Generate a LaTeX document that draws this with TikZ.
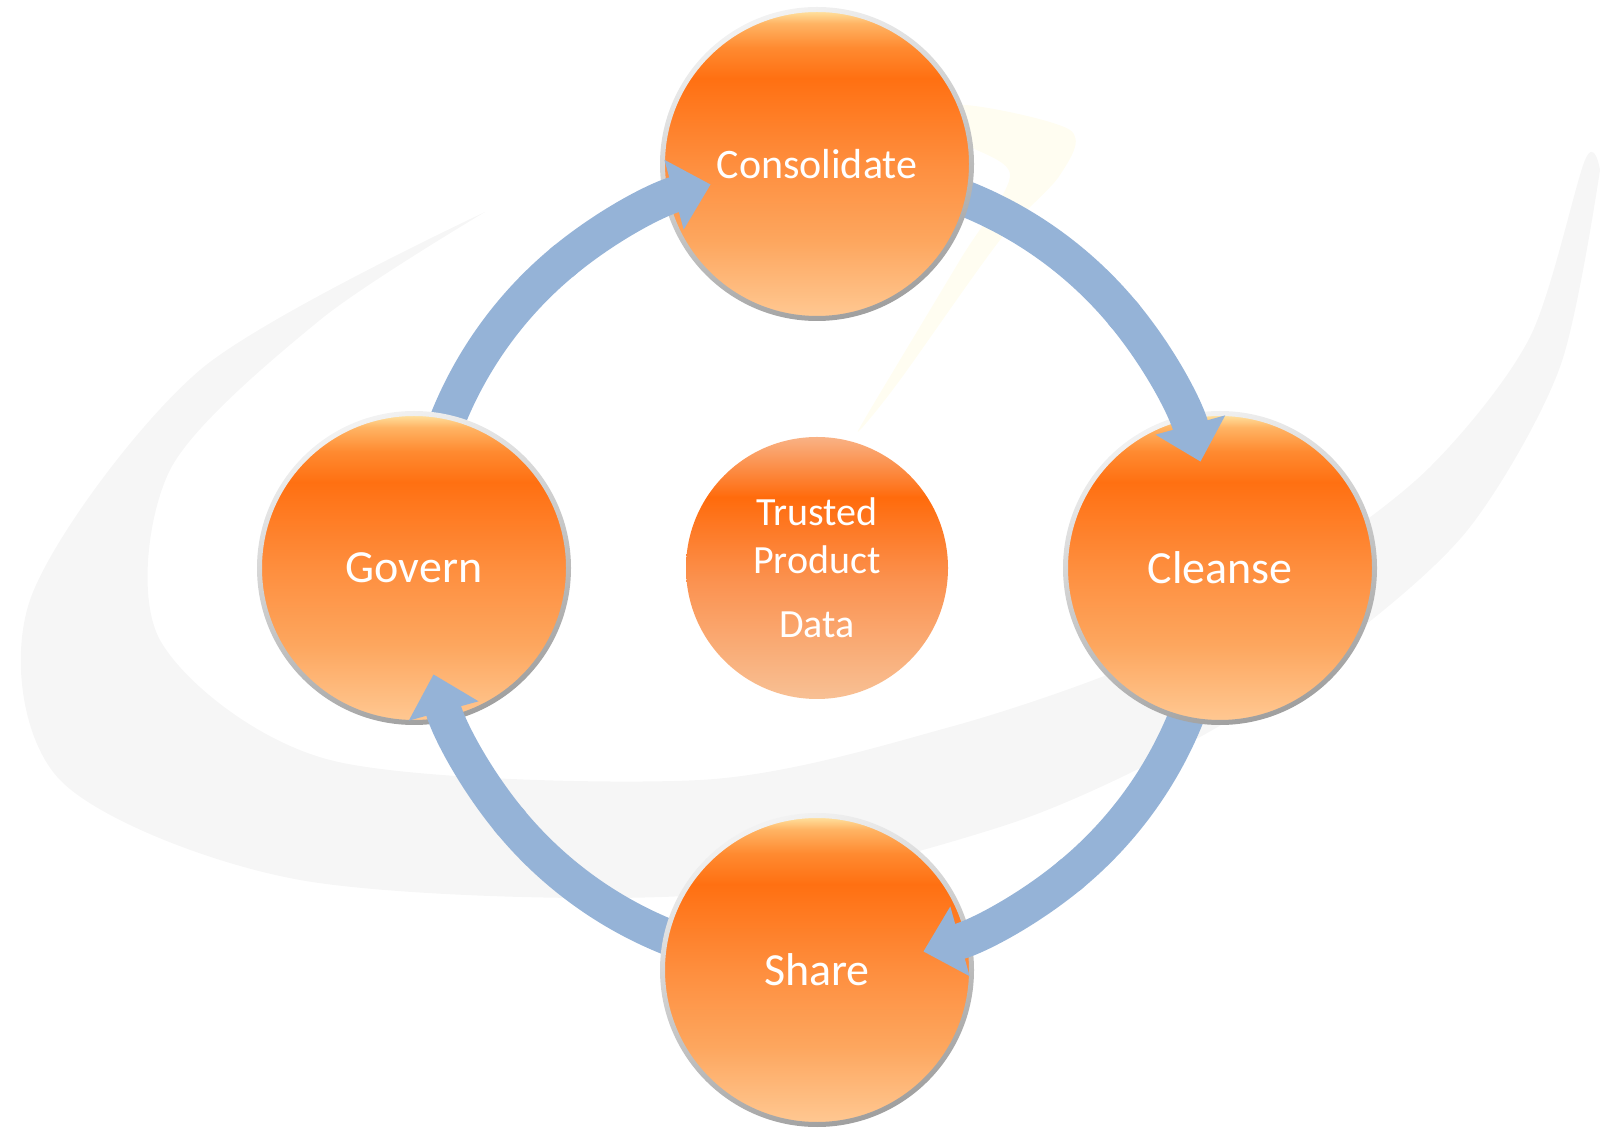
\documentclass[tikz,border=0pt]{standalone}
\usepackage{fontspec}
\setmainfont{Carlito}
\usetikzlibrary{arrows.meta,calc,shadows}

\definecolor{flowblue}{HTML}{95B3D7}
\definecolor{swooshgrey}{HTML}{F6F6F6}
\definecolor{glintyellow}{HTML}{FFFDF1}
\definecolor{stagetop}{HTML}{FFE2A0}
\definecolor{stagerim}{HTML}{FFB464}
\definecolor{stagehot}{HTML}{FF8A30}
\definecolor{stagedeep}{HTML}{FF7012}
\definecolor{stagemid}{HTML}{FE8E3E}
\definecolor{stagelow}{HTML}{FDA65E}
\definecolor{stagebottom}{HTML}{FFC892}
\definecolor{hubtop}{HTML}{F9B285}
\definecolor{hubdeep}{HTML}{FF6B0C}
\definecolor{hubmid}{HTML}{FB9250}
\definecolor{hubbottom}{HTML}{F8C094}

\pgfdeclareverticalshading{stageglass}{100bp}{%
  color(0bp)=(stagebottom); color(25bp)=(stagebottom); color(37.5bp)=(stagelow);
  color(50bp)=(stagemid); color(64bp)=(stagedeep); color(69bp)=(stagehot);
  color(73bp)=(stagerim); color(75bp)=(stagetop); color(100bp)=(stagetop)}
\pgfdeclareverticalshading{hubglow}{100bp}{%
  color(0bp)=(hubbottom); color(25bp)=(hubbottom); color(47.5bp)=(hubmid);
  color(63.5bp)=(hubdeep); color(75bp)=(hubtop); color(100bp)=(hubtop)}

\begin{document}
\begin{tikzpicture}
[x=1pt,y=1pt,%
  stageDecorate/.style={shape=circle,minimum size=306pt,inner sep=0pt,
    shading=stageglass,text=white,
    drop shadow={shadow xshift=2pt,shadow yshift=-3pt,opacity=0.3}},%
  hubDecorate/.style={shape=circle,minimum size=262pt,inner sep=0pt,
    shading=hubglow,text=white,align=center,
    font=\fontsize{40}{48}\selectfont},%
  rimDecorate/.style={even odd rule,top color=gray!10,bottom color=gray!75,
    shading angle=20},%
  flowDecorate/.style={draw=flowblue,line width=36pt},%
  swooshDecorate/.style={fill=swooshgrey},%
  glintDecorate/.style={fill=glintyellow}]
\useasboundingbox (0,0) rectangle (1605,1127);
%% background strokes
\fill[swooshDecorate] plot[smooth] coordinates {(485,915) (200,757) (30,527)
  (60,347) (300,247) (700,232) (1000,300) (1200,390) (1350,490) (1470,600)
  (1560,760) (1600,957)}
  -- plot[smooth] coordinates {(1600,957) (1585,967) (1530,790) (1430,660)
  (1300,560) (1150,470) (950,400) (700,347) (330,367) (160,487) (170,657)
  (320,807) (485,915)} -- cycle;
\fill[glintDecorate] plot[smooth cycle] coordinates {(960,1022) (1070,997)
  (1060,952) (1000,887) (900,747) (860,697) (870,717) (960,867) (1010,952)
  (960,987)};
%% centre
\node (hub) at (817,559) [hubDecorate] {Trusted\\Product\\[16pt]Data};
%% arrow shafts, under the stages
\foreach \from/\to in {90/0, 0/-90, -90/-180, -180/-270}
{
  \draw[flowDecorate] ($(hub)+(\from-12:398pt)$)
    arc[start angle=\from-12,end angle=\to+39,radius=398pt];
}
%% stages
\foreach \nodename/\x/\y/\fs in {
  Consolidate/817/963/42, Cleanse/1220/559/46,
  Share/817/157/46, Govern/414/559/46}
{
  \node (\nodename) at (\x,\y) [stageDecorate,
    font=\fontsize{\fs}{\fs}\selectfont] {\nodename};
  \shade[rimDecorate] (\nodename.center) circle[radius=157pt]
    circle[radius=152pt];
}
%% arrow heads, over the stages
\foreach \to in {0,-90,-180,-270}
{
  \draw[flowDecorate,-{Triangle[width=70pt,length=38pt]}]
    ($(hub)+(\to+40:398pt)$)
    arc[start angle=\to+40,end angle=\to+15.5,radius=398pt];
}
\end{tikzpicture}
\end{document}
